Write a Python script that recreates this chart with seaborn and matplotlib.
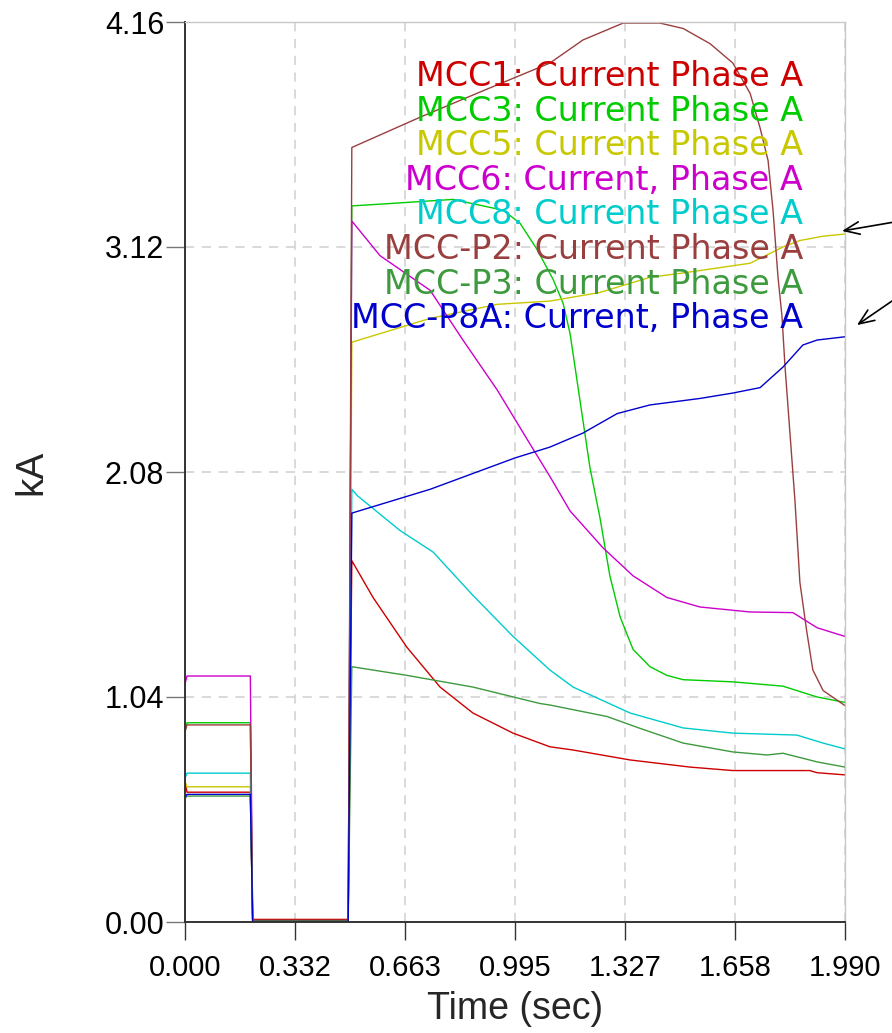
import numpy as np
import pandas as pd
import matplotlib
matplotlib.use("Agg")
import matplotlib.pyplot as plt
import seaborn as sns

# ---------------- data ----------------
series_names = [
    "MCC1: Current Phase A",
    "MCC3: Current Phase A",
    "MCC5: Current Phase A",
    "MCC6: Current, Phase A",
    "MCC8: Current Phase A",
    "MCC-P2: Current Phase A",
    "MCC-P3: Current Phase A",
    "MCC-P8A: Current, Phase A",
]
series_colors = ["#CC0000", "#00CC00", "#C8C800", "#CC00CC",
                 "#00CCCC", "#9A3F3F", "#3E9A3E", "#0000CC"]

# common pre-fault / fault time stamps (s)
stage_times = [0.0, 0.006, 0.197, 0.204, 0.492]
# values at t=0, steady pre-fault, during fault (kA)
start_values = [0.650, 0.880, 0.650, 1.100, 0.665, 0.880, 0.570, 0.575]
pre_values = [0.600, 0.921, 0.625, 1.137, 0.688, 0.911, 0.582, 0.590]
fault_values = [0.012, 0.006, 0.005, 0.005, 0.005, 0.008, 0.004, 0.002]

mcc1_t = [0.503, 0.567, 0.669, 0.769, 0.868, 0.989, 1.100, 1.170, 1.342, 1.523, 1.652, 1.884, 1.906, 1.990]
mcc1_v = [1.67, 1.50, 1.27, 1.086, 0.966, 0.873, 0.81, 0.795, 0.749, 0.716, 0.700, 0.700, 0.690, 0.680]

mcc3_t = [0.503, 0.609, 0.808, 0.959, 1.010, 1.061, 1.110, 1.140, 1.161, 1.191, 1.221, 1.251, 1.281,
          1.312, 1.351, 1.402, 1.453, 1.502, 1.652, 1.803, 1.906, 1.990]
mcc3_v = [3.31, 3.32, 3.34, 3.29, 3.23, 3.11, 2.97, 2.86, 2.72, 2.41, 2.10, 1.87, 1.60,
          1.41, 1.26, 1.18, 1.14, 1.12, 1.11, 1.09, 1.04, 1.015]

mcc5_t = [0.503, 0.739, 0.941, 1.100, 1.251, 1.402, 1.502, 1.704, 1.803, 1.854, 1.924, 1.990]
mcc5_v = [2.68, 2.79, 2.855, 2.87, 2.91, 2.98, 3.00, 3.045, 3.12, 3.15, 3.17, 3.18]

mcc6_t = [0.503, 0.588, 0.739, 0.838, 0.941, 1.040, 1.100, 1.161, 1.260, 1.351, 1.453, 1.553,
          1.704, 1.833, 1.906, 1.990]
mcc6_v = [3.24, 3.08, 2.92, 2.69, 2.46, 2.21, 2.06, 1.90, 1.73, 1.60, 1.50, 1.456,
          1.433, 1.43, 1.36, 1.32]

mcc8_t = [0.503, 0.520, 0.648, 0.748, 0.868, 0.989, 1.100, 1.170, 1.342, 1.502, 1.652, 1.845, 1.924, 1.990]
mcc8_v = [2.00, 1.97, 1.81, 1.71, 1.51, 1.32, 1.165, 1.086, 0.966, 0.897, 0.873, 0.864, 0.827, 0.800]

mccp2_t = [0.503, 0.709, 0.911, 1.100, 1.200, 1.321, 1.432, 1.502, 1.583, 1.652, 1.704, 1.734,
           1.758, 1.773, 1.788, 1.800, 1.809, 1.824, 1.839, 1.854, 1.875, 1.893, 1.924, 1.990]
mccp2_v = [3.58, 3.72, 3.85, 3.97, 4.077, 4.155, 4.155, 4.13, 4.06, 3.97, 3.83, 3.67,
           3.52, 3.29, 2.98, 2.80, 2.57, 2.26, 1.95, 1.57, 1.34, 1.165, 1.07, 1.00]

mccp3_t = [0.503, 0.669, 0.868, 1.070, 1.100, 1.272, 1.372, 1.502, 1.652, 1.755, 1.803, 1.906, 1.990]
mccp3_v = [1.18, 1.14, 1.086, 1.01, 1.003, 0.95, 0.895, 0.827, 0.786, 0.772, 0.78, 0.74, 0.716]

mccp8a_t = [0.503, 0.739, 0.995, 1.100, 1.200, 1.303, 1.402, 1.553, 1.652, 1.734, 1.803, 1.863, 1.906, 1.990]
mccp8a_v = [1.89, 2.00, 2.145, 2.195, 2.26, 2.35, 2.39, 2.42, 2.445, 2.47, 2.565, 2.667, 2.69, 2.705]

post_times = [mcc1_t, mcc3_t, mcc5_t, mcc6_t, mcc8_t, mccp2_t, mccp3_t, mccp8a_t]
post_values = [mcc1_v, mcc3_v, mcc5_v, mcc6_v, mcc8_v, mccp2_v, mccp3_v, mccp8a_v]

x_max = 1.990
y_max = 4.16
x_tick_values = np.linspace(0, x_max, 7)
y_tick_values = np.linspace(0, y_max, 5)

# annotation arrows (tail -> head, data coords)
arrow_tails = [(2.141, 3.236), (2.141, 2.880)]
arrow_heads = [(1.981, 3.194), (2.026, 2.759)]

# ---------------- build table ----------------
rows = []
for name, s0, pv, fv, pt, pvv in zip(series_names, start_values, pre_values, fault_values,
                                     post_times, post_values):
    tt = list(stage_times) + list(pt)
    vv = [s0, pv, pv, fv, fv] + list(pvv)
    for a, b in zip(tt, vv):
        rows.append({"series": name, "t": a, "kA": b})
df = pd.DataFrame(rows)

# ---------------- plot ----------------
sns.set_style("white")
plt.rcParams["font.family"] = ["Liberation Sans", "DejaVu Sans"]

fig = plt.figure(figsize=(8.92, 10.33), dpi=100)
ax = fig.add_axes([185 / 892, 111 / 1033, 660 / 892, 900 / 1033])

sns.lineplot(data=df, x="t", y="kA", hue="series", hue_order=series_names,
             palette=dict(zip(series_names, series_colors)), estimator=None,
             sort=False, legend=False, linewidth=1.0, ax=ax)

ax.set_xlim(0, x_max)
ax.set_ylim(0, y_max)
ax.set_xticks(x_tick_values)
ax.set_xticklabels([f"{v:.3f}" for v in x_tick_values])
ax.set_yticks(y_tick_values)
ax.set_yticklabels([f"{v:.2f}" for v in y_tick_values])

ax.grid(True, color="#D0D0D0", linestyle=(0, (6, 5)), linewidth=1.1)
ax.set_axisbelow(True)

for side in ["left", "bottom"]:
    ax.spines[side].set_color("#333333")
    ax.spines[side].set_linewidth(1.4)
for side in ["top", "right"]:
    ax.spines[side].set_color("#C8C8C8")
    ax.spines[side].set_linewidth(1.0)

ax.tick_params(axis="y", direction="out", length=14, width=1.0, color="#777777",
               labelsize=22, pad=1, labelcolor="black", left=True)
ax.tick_params(axis="x", direction="out", length=13, width=1.0, color="#333333",
               labelsize=21, pad=10, labelcolor="black", bottom=True)

ax.set_xlabel("Time (sec)", fontsize=27)
ax.xaxis.set_label_coords(0.5, -0.077)
ax.set_ylabel("kA", fontsize=28)
ax.yaxis.set_label_coords(-0.205, 0.5)

# legend-like coloured labels
base_frac = 1 - (86 - 22) / 900
step_frac = 34.6 / 900
for i, (name, col) in enumerate(zip(series_names, series_colors)):
    ax.text((803 - 185) / 660, base_frac - i * step_frac, name, transform=ax.transAxes,
            ha="right", va="baseline", color=col, fontsize=24,
            family=["DejaVu Sans"])

for tail, head in zip(arrow_tails, arrow_heads):
    ax.annotate("", xy=head, xytext=tail, xycoords="data", textcoords="data",
                annotation_clip=False,
                arrowprops=dict(arrowstyle="->,head_length=1.1,head_width=0.45",
                                color="black", lw=1.2, shrinkA=0, shrinkB=0))

fig.savefig("out.png", dpi=100)
